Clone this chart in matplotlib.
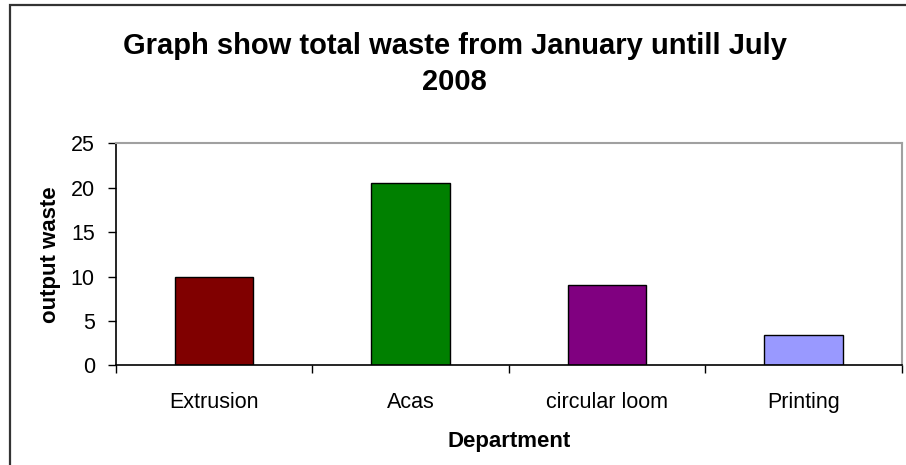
import matplotlib.pyplot as plt
from matplotlib.patches import Rectangle

departments = ['Extrusion', 'Acas', 'circular loom', 'Printing']
waste = [10, 20.5, 9, 3.4]
colors = ['#800000', '#008000', '#800080', '#9999FF']

plt.rcParams['font.family'] = ['Liberation Sans', 'DejaVu Sans']

fig = plt.figure(figsize=(9.06, 4.65), dpi=100)
ax = fig.add_axes([0.1277, 0.2144, 0.8679, 0.4774])

# outer chart border (runs off the right and bottom edges)
fig.patches.append(Rectangle((9.7 / 906, -0.1), 1.2, 1 - 4.7 / 465 + 0.1,
                             transform=fig.transFigure, fill=False,
                             edgecolor='#333333', linewidth=1.6))

x = range(len(departments))
ax.bar(x, waste, width=0.4, color=colors, edgecolor='black', linewidth=1.0)

ax.set_xlim(-0.5, len(departments) - 0.5)
ax.set_ylim(0, 25)
ax.set_yticks([0, 5, 10, 15, 20, 25])
ax.set_xticks(list(x))
ax.set_xticklabels(departments)
ax.set_xticks([i - 0.5 for i in range(len(departments) + 1)], minor=True)
ax.tick_params(axis='x', which='major', length=0, pad=19, labelsize=15.5)
ax.tick_params(axis='x', which='minor', length=6, width=1, direction='out')
ax.tick_params(axis='y', length=6, width=1, labelsize=15.5, pad=9)

for side in ['top', 'right']:
    ax.spines[side].set_color('#a0a0a0')
    ax.spines[side].set_linewidth(1.5)
for side in ['left', 'bottom']:
    ax.spines[side].set_color('black')
    ax.spines[side].set_linewidth(1.2)

ax.set_xlabel('Department', fontsize=16, fontweight='bold', labelpad=13)
ax.set_ylabel('output waste', fontsize=16, fontweight='bold', labelpad=7)

fig.text(0.502, 0.862, 'Graph show total waste from January untill July\n2008',
         ha='center', va='center', fontsize=21, fontweight='bold',
         linespacing=1.35)

fig.savefig('out.png', dpi=100)
